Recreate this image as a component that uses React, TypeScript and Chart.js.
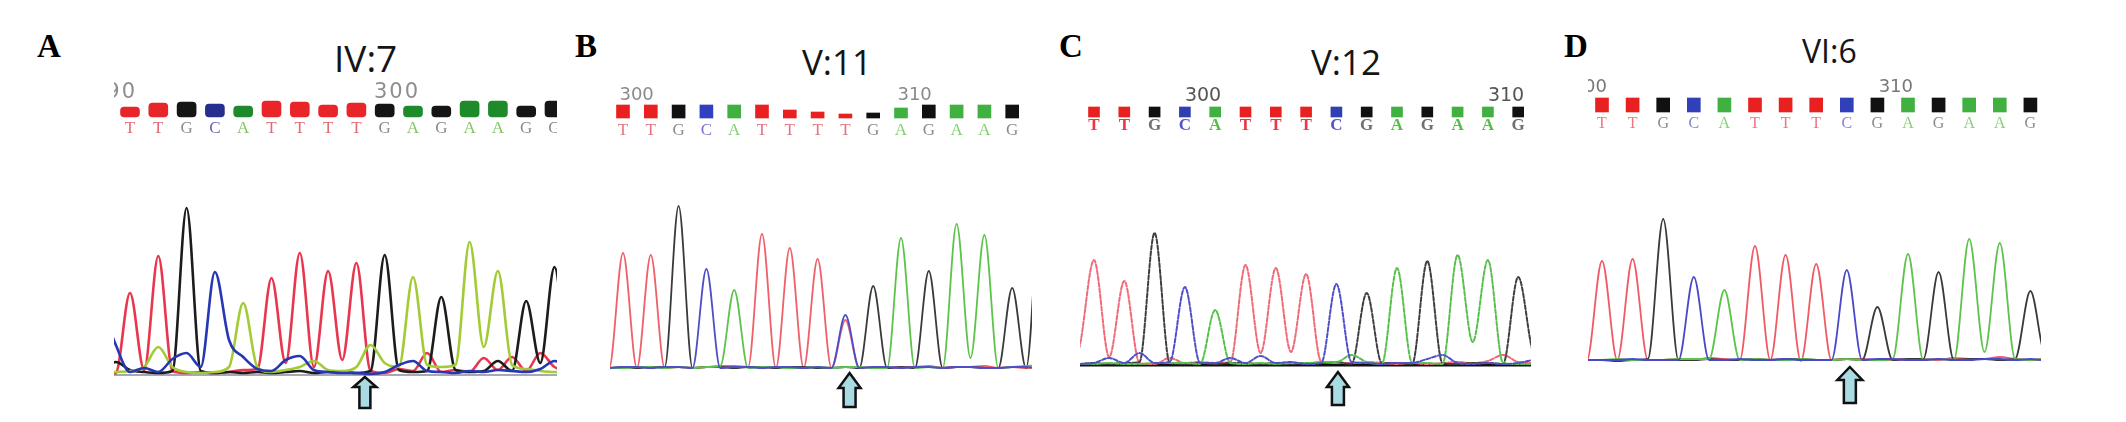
import React, { useEffect, useRef } from 'react';
import { Chart, registerables } from 'chart.js';

Chart.register(...registerables);

// ---------------- DATA ----------------
// Trace samples are taken every half base, starting one base before base 0.
// Panel A  (IV:7)
const A_bases = ['T', 'T', 'G', 'C', 'A', 'T', 'T', 'T', 'T', 'G', 'A', 'G', 'A', 'A', 'G', 'G'];
const A_quality = [10, 14, 15, 13, 11, 16, 15, 12, 14, 13, 11, 11, 16, 16, 11, 16];
const A_numbers = ['290', '300'];
const A_numberAt = [0, 10];
const A_traceT = [0, 2, 82, 5, 119, 4, 2, 3, 2, 3, 5, 6, 97, 12, 122, 8, 104, 15, 112, 4, 2, 6, 4, 22, 3, 5, 3, 17, 5, 18, 4, 22, 8, 4, 0];
const A_traceG = [2, 13, 5, 3, 2, 4, 167, 4, 2, 3, 2, 3, 2, 3, 4, 2, 3, 3, 2, 4, 120, 5, 3, 4, 78, 5, 3, 4, 14, 4, 74, 12, 108, 10, 0];
const A_traceC = [70, 30, 3, 7, 3, 16, 22, 8, 103, 35, 18, 6, 4, 15, 19, 5, 3, 2, 2, 1, 3, 10, 14, 4, 3, 2, 4, 3, 5, 4, 3, 6, 14, 8, 0];
const A_traceA = [2, 3, 4, 8, 28, 8, 3, 2, 3, 8, 72, 8, 3, 5, 8, 14, 5, 4, 8, 30, 12, 8, 98, 10, 8, 10, 133, 28, 104, 10, 6, 4, 3, 3, 0];

// Panel B  (V:11)
const B_bases = ['T', 'T', 'G', 'C', 'A', 'T', 'T', 'T', 'T', 'G', 'A', 'G', 'A', 'A', 'G'];
const B_quality = [13, 13, 13, 13, 13, 13, 8, 6, 4, 5, 10, 13, 13, 13, 13];
const B_numbers = ['300', '310'];
const B_numberAt = [1, 11];
const B_traceT = [0, 0, 115, 0, 113, 0, 1, 0, 1, 2, 2, 1, 134, 0, 120, 0, 109, 0, 48, 0, 1, 0, 1, 1, 2, 0, 1, 1, 2, 0, 1, 0, 0];
const B_traceG = [0, 0, 1, 0, 1, 1, 162, 0, 1, 1, 0, 1, 1, 0, 1, 1, 0, 0, 1, 0, 82, 0, 1, 0, 97, 0, 1, 1, 0, 0, 80, 0, 200];
const B_traceC = [0, 0, 1, 1, 0, 1, 1, 0, 99, 0, 1, 1, 0, 1, 1, 0, 1, 0, 53, 0, 1, 1, 0, 1, 1, 0, 1, 1, 0, 0, 1, 1, 0];
const B_traceA = [0, 0, 0, 1, 1, 0, 1, 0, 1, 2, 78, 0, 1, 1, 0, 0, 1, 0, 1, 1, 0, 0, 130, 0, 1, 0, 144, 10, 133, 0, 1, 2, 3];

// Panel C  (V:12)
const C_bases = ['T', 'T', 'G', 'C', 'A', 'T', 'T', 'T', 'C', 'G', 'A', 'G', 'A', 'A', 'G'];
const C_quality = [10, 10, 10, 10, 10, 10, 10, 10, 10, 10, 10, 10, 10, 10, 10];
const C_numbers = ['300', '310'];
const C_numberAt = [4, 14];
const C_traceT = [0, 16, 105, 8, 84, 2, 1, 7, 2, 3, 2, 3, 100, 12, 97, 13, 91, 3, 2, 2, 3, 2, 1, 2, 1, 2, 3, 2, 4, 10, 3, 2, 0];
const C_traceG = [0, 1, 2, 1, 2, 3, 132, 2, 1, 2, 1, 2, 2, 1, 2, 1, 2, 2, 3, 1, 72, 2, 2, 1, 104, 2, 1, 2, 2, 1, 88, 12, 0];
const C_traceC = [0, 1, 2, 7, 2, 12, 2, 3, 78, 2, 2, 7, 2, 9, 2, 3, 1, 2, 81, 3, 2, 1, 2, 2, 6, 10, 2, 1, 2, 1, 2, 5, 6];
const C_traceA = [0, 1, 1, 2, 1, 1, 2, 2, 2, 1, 55, 2, 1, 2, 1, 2, 2, 3, 3, 10, 3, 1, 97, 2, 2, 1, 110, 23, 105, 2, 1, 1, 2];

// Panel D  (VI:6)
const D_bases = ['T', 'T', 'G', 'C', 'A', 'T', 'T', 'T', 'C', 'G', 'A', 'G', 'A', 'A', 'G'];
const D_quality = [14, 14, 14, 14, 14, 14, 14, 14, 14, 14, 14, 14, 14, 14, 14];
const D_numbers = ['300', '310'];
const D_numberAt = [0, 10];
const D_traceT = [0, 0, 100, 1, 102, 1, 1, 2, 1, 3, 2, 1, 115, 1, 106, 0, 97, 1, 2, 2, 1, 1, 2, 2, 1, 3, 2, 2, 4, 2, 1, 1, 0];
const D_traceG = [0, 1, 1, 0, 1, 2, 142, 1, 1, 2, 1, 1, 2, 1, 2, 2, 1, 1, 2, 1, 54, 1, 2, 2, 89, 1, 2, 2, 1, 2, 70, 3, 0];
const D_traceC = [0, 1, 1, 1, 2, 1, 1, 1, 84, 1, 1, 2, 1, 1, 2, 1, 1, 1, 91, 1, 2, 2, 1, 1, 2, 1, 1, 2, 2, 1, 2, 1, 1];
const D_traceA = [0, 1, 1, 2, 1, 1, 1, 2, 2, 2, 71, 1, 2, 1, 1, 2, 1, 1, 2, 1, 1, 2, 107, 1, 2, 1, 122, 9, 118, 2, 1, 4, 30];

const MUTATION_AT = [8.3, 8.15, 8.05, 8.1];

// ---------------- LAYOUT / STYLE ----------------
const CANVAS_TOP = 70;
const CANVAS_H = 345;
const GRID_START = -1;
const GRID_STEP = 0.5;

type Ch = 'A' | 'C' | 'G' | 'T';
type Rec = Record<Ch, string>;

interface PanelDef {
  letter: string;
  title: string;
  bases: string[];
  quality: number[];
  numbers: string[];
  numberAt: number[];
  traces: Record<Ch, number[]>;
  mutationAt: number;
  L: {
    left: number; right: number; x0: number; step: number; baseline: number; barBottom: number;
    numY: number; letY: number; numOffset: number;
    arrowTip: number; arrowBottom: number; headH: number; headW: number; shaftW: number;
    titleLeft: number; titleTop: number; titleSize: number; labelLeft: number;
  };
  S: {
    trace: Rec; bar: Rec; text: Rec; lineWidth: number; dash: number[];
    barWidth: number; barRadius: number;
    numFont: string; numColor: string; numSpacing: string; letFont: string;
    baseLine: null | { color: string; width: number };
  };
}

const PANELS: PanelDef[] = [
  {
    letter: 'A', title: 'IV:7', bases: A_bases, quality: A_quality, numbers: A_numbers, numberAt: A_numberAt,
    traces: { A: A_traceA, C: A_traceC, G: A_traceG, T: A_traceT }, mutationAt: MUTATION_AT[0],
    L: {
      left: 114, right: 557, x0: 130, step: 28.3, baseline: 375, barBottom: 117, numY: 98, letY: 133, numOffset: 7,
      arrowTip: 377, arrowBottom: 408, headH: 10, headW: 11.5, shaftW: 5.5,
      titleLeft: 334, titleTop: 39, titleSize: 37, labelLeft: 37,
    },
    S: {
      trace: { T: '#e8364e', G: '#1c1c1c', C: '#2637b4', A: '#a2cb36' },
      bar: { T: '#e8262a', G: '#151515', C: '#262e8e', A: '#1f8a2a' },
      text: { T: '#e06a78', G: '#8a8a8a', C: '#6262b4', A: '#86c466' },
      lineWidth: 2.6, dash: [], barWidth: 19, barRadius: 4,
      numFont: '21px "DejaVu Sans"', numColor: '#8e8e8e', numSpacing: '2px', letFont: '17px "Liberation Serif"',
      baseLine: { color: '#a8a8b4', width: 2 },
    },
  },
  {
    letter: 'B', title: 'V:11', bases: B_bases, quality: B_quality, numbers: B_numbers, numberAt: B_numberAt,
    traces: { A: B_traceA, C: B_traceC, G: B_traceG, T: B_traceT }, mutationAt: MUTATION_AT[1],
    L: {
      left: 610, right: 1032, x0: 623, step: 27.8, baseline: 368, barBottom: 118, numY: 100, letY: 135, numOffset: 3,
      arrowTip: 373, arrowBottom: 407, headH: 15, headW: 11, shaftW: 6,
      titleLeft: 802, titleTop: 44, titleSize: 35, labelLeft: 575,
    },
    S: {
      trace: { T: '#f0606a', G: '#3a3a3a', C: '#4e4ec8', A: '#5cc44a' },
      bar: { T: '#e82020', G: '#111111', C: '#3040c0', A: '#40b040' },
      text: { T: '#e07482', G: '#8a8a8a', C: '#7474d0', A: '#84d074' },
      lineWidth: 1.8, dash: [], barWidth: 13, barRadius: 0,
      numFont: '18px "DejaVu Sans"', numColor: '#8a8a8a', numSpacing: '0px', letFont: '17px "Liberation Serif"',
      baseLine: null,
    },
  },
  {
    letter: 'C', title: 'V:12', bases: C_bases, quality: C_quality, numbers: C_numbers, numberAt: C_numberAt,
    traces: { A: C_traceA, C: C_traceC, G: C_traceG, T: C_traceT }, mutationAt: MUTATION_AT[2],
    L: {
      left: 1080, right: 1531, x0: 1094, step: 30.3, baseline: 365, barBottom: 117, numY: 101, letY: 130, numOffset: 6,
      arrowTip: 372, arrowBottom: 405, headH: 15, headW: 11, shaftW: 6,
      titleLeft: 1311, titleTop: 44, titleSize: 35, labelLeft: 1059,
    },
    S: {
      trace: { T: '#f06a78', G: '#404040', C: '#5050c8', A: '#58c04c' },
      bar: { T: '#e82020', G: '#111111', C: '#3040b0', A: '#40b040' },
      text: { T: '#f03444', G: '#707070', C: '#5454c4', A: '#52c044' },
      lineWidth: 2, dash: [4, 2], barWidth: 11, barRadius: 0,
      numFont: '19px "DejaVu Sans"', numColor: '#555555', numSpacing: '0px', letFont: 'bold 17px "Liberation Serif"',
      baseLine: { color: '#111111', width: 3 },
    },
  },
  {
    letter: 'D', title: 'VI:6', bases: D_bases, quality: D_quality, numbers: D_numbers, numberAt: D_numberAt,
    traces: { A: D_traceA, C: D_traceC, G: D_traceG, T: D_traceT }, mutationAt: MUTATION_AT[3],
    L: {
      left: 1588, right: 2041, x0: 1602, step: 30.6, baseline: 361, barBottom: 112, numY: 92, letY: 128, numOffset: 5,
      arrowTip: 367, arrowBottom: 403, headH: 13, headW: 12.5, shaftW: 6,
      titleLeft: 1802, titleTop: 35, titleSize: 32, labelLeft: 1564,
    },
    S: {
      trace: { T: '#f05a64', G: '#3a3a3a', C: '#4848c8', A: '#5cc44a' },
      bar: { T: '#e82020', G: '#111111', C: '#3040b8', A: '#40b040' },
      text: { T: '#f07482', G: '#8a8a8a', C: '#8282d2', A: '#84d274' },
      lineWidth: 1.8, dash: [], barWidth: 13, barRadius: 0,
      numFont: '18px "DejaVu Sans"', numColor: '#777777', numSpacing: '0px', letFont: '16px "Liberation Serif"',
      baseLine: null,
    },
  },
];

function tracePoints(vals: number[]) {
  return vals.map((y, k) => ({ x: GRID_START + k * GRID_STEP, y }));
}

function overlayPlugin(p: PanelDef) {
  const L = p.L;
  const S = p.S;
  return {
    id: 'overlay' + p.letter,
    beforeDatasetsDraw(chart: any) {
      if (!S.baseLine) return;
      const { ctx, chartArea, scales } = chart;
      const y = scales.y.getPixelForValue(0);
      ctx.save();
      ctx.strokeStyle = S.baseLine.color;
      ctx.lineWidth = S.baseLine.width;
      ctx.beginPath();
      ctx.moveTo(chartArea.left, y);
      ctx.lineTo(chartArea.right, y);
      ctx.stroke();
      ctx.restore();
    },
    afterDatasetsDraw(chart: any) {
      const { ctx, scales } = chart;
      const xs = scales.x;
      ctx.save();
      // base letters
      ctx.font = S.letFont;
      ctx.textAlign = 'center';
      ctx.textBaseline = 'alphabetic';
      p.bases.forEach((b, i) => {
        ctx.fillStyle = (S.text as any)[b];
        ctx.fillText(b, xs.getPixelForValue(i), L.letY - CANVAS_TOP);
      });
      // position numbers
      ctx.font = S.numFont;
      ctx.fillStyle = S.numColor;
      ctx.textAlign = 'right';
      try { (ctx as any).letterSpacing = S.numSpacing; } catch (e) { /* ignore */ }
      p.numbers.forEach((t, j) => {
        ctx.fillText(t, xs.getPixelForValue(p.numberAt[j]) + L.numOffset, L.numY - CANVAS_TOP);
      });
      try { (ctx as any).letterSpacing = '0px'; } catch (e) { /* ignore */ }
      // arrow
      const cx = xs.getPixelForValue(p.mutationAt);
      const tip = L.arrowTip - CANVAS_TOP;
      const bot = L.arrowBottom - CANVAS_TOP;
      const hb = tip + L.headH;
      ctx.beginPath();
      ctx.moveTo(cx, tip);
      ctx.lineTo(cx + L.headW, hb);
      ctx.lineTo(cx + L.shaftW, hb);
      ctx.lineTo(cx + L.shaftW, bot);
      ctx.lineTo(cx - L.shaftW, bot);
      ctx.lineTo(cx - L.shaftW, hb);
      ctx.lineTo(cx - L.headW, hb);
      ctx.closePath();
      ctx.fillStyle = '#a9dbe3';
      ctx.fill();
      ctx.strokeStyle = '#111111';
      ctx.lineWidth = 2.5;
      ctx.lineJoin = 'miter';
      ctx.stroke();
      ctx.restore();
    },
  };
}

function ChromPanel({ p }: { p: PanelDef }) {
  const ref = useRef<HTMLCanvasElement | null>(null);
  const L = p.L;
  const W = L.right - L.left;
  useEffect(() => {
    const cv = ref.current;
    if (!cv) return;
    const xMin = (L.left - L.x0) / L.step;
    const xMax = (L.right - L.x0) / L.step;
    const yMax = L.baseline - CANVAS_TOP;
    const yMin = yMax - CANVAS_H;
    const qMax = L.barBottom - CANVAS_TOP;
    const qMin = qMax - CANVAS_H;
    const order: Ch[] = ['C', 'A', 'G', 'T'];
    const lineSets = order.map((ch) => ({
      type: 'line' as const,
      label: ch,
      data: tracePoints(p.traces[ch]),
      borderColor: p.S.trace[ch],
      borderWidth: p.S.lineWidth,
      borderDash: p.S.dash,
      borderCapStyle: 'round' as const,
      borderJoinStyle: 'round' as const,
      pointRadius: 0,
      cubicInterpolationMode: 'monotone' as const,
      fill: false,
      xAxisID: 'x',
      yAxisID: 'y',
    }));
    const barSet = {
      type: 'bar' as const,
      label: 'quality',
      data: p.quality.map((q, i) => ({ x: i, y: q })),
      backgroundColor: p.bases.map((b) => (p.S.bar as any)[b]),
      barThickness: p.S.barWidth,
      borderRadius: p.S.barRadius,
      borderSkipped: false,
      xAxisID: 'x',
      yAxisID: 'q',
    };
    const chart = new Chart(cv, {
      type: 'line',
      data: { datasets: [...lineSets, barSet] as any },
      options: {
        animation: false,
        responsive: false,
        devicePixelRatio: 1,
        events: [],
        layout: { padding: 0 },
        plugins: { legend: { display: false }, tooltip: { enabled: false }, title: { display: false } },
        scales: {
          x: { type: 'linear', min: xMin, max: xMax, display: false, offset: false },
          y: { type: 'linear', min: yMin, max: yMax, display: false },
          q: { type: 'linear', min: qMin, max: qMax, display: false, position: 'left' },
        },
      } as any,
      plugins: [overlayPlugin(p)],
    });
    return () => chart.destroy();
  }, []);
  return (
    <canvas
      ref={ref}
      width={W}
      height={CANVAS_H}
      style={{ position: 'absolute', left: L.left, top: CANVAS_TOP, width: W, height: CANVAS_H }}
    />
  );
}

export default function App() {
  useEffect(() => {
    document.body.style.margin = '0';
  }, []);
  const labelSize = 33;
  const labelTop = 58 - 0.8375 * labelSize;
  return (
    <div
      style={{
        position: 'absolute', left: 0, top: 0, width: 2126, height: 422, overflow: 'hidden', background: '#ffffff',
      }}
    >
      {PANELS.map((p) => (
        <React.Fragment key={p.letter}>
          <div
            style={{
              position: 'absolute', left: p.L.labelLeft, top: labelTop, fontFamily: '"Liberation Serif", serif',
              fontWeight: 'bold', fontSize: labelSize, lineHeight: 1, color: '#000', whiteSpace: 'nowrap',
            }}
          >
            {p.letter}
          </div>
          <div
            style={{
              position: 'absolute', left: p.L.titleLeft, top: p.L.titleTop, fontFamily: '"Open Sans", sans-serif',
              fontSize: p.L.titleSize, lineHeight: 1, color: '#151515', whiteSpace: 'nowrap',
            }}
          >
            {p.title}
          </div>
          <ChromPanel p={p} />
        </React.Fragment>
      ))}
    </div>
  );
}
